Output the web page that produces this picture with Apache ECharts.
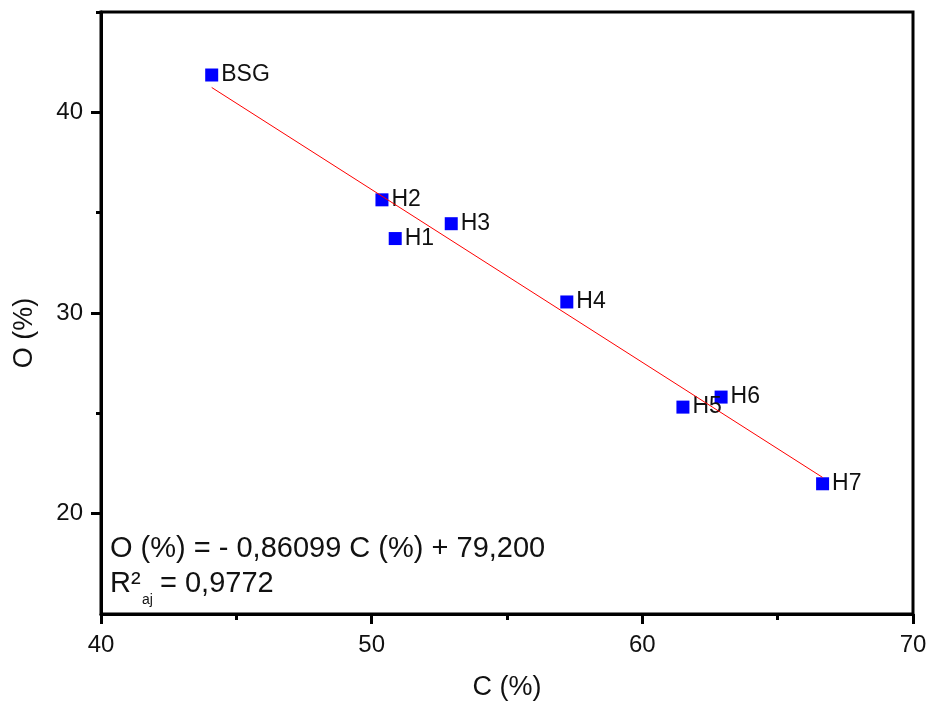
<!DOCTYPE html>
<html>
<head>
<meta charset="utf-8">
<script src="https://cdn.jsdelivr.net/npm/echarts@6/dist/echarts.min.js"></script>
<style>
  html, body { margin: 0; padding: 0; background: #fff; }
  #chart { width: 930px; height: 706px; }
</style>
</head>
<body>
<div id="chart"></div>
<script>
// Sample labels and elemental composition (wt %)
const sampleNames = ['BSG', 'H1', 'H2', 'H3', 'H4', 'H5', 'H6', 'H7'];
const carbonPct   = [44.09, 50.87, 50.38, 52.94, 57.21, 61.50, 62.91, 66.66];
const oxygenPct   = [41.86, 33.71, 35.64, 34.45, 30.55, 25.31, 25.81, 21.49];

// Linear fit O = a*C + b
const fitSlope = -0.86099;
const fitIntercept = 79.200;
const fitR2Label = '0,9772';

// Axis ticks
const xRange = [40, 70];
const xTickStep = 10;
const yRange = [15, 45];
const yMajorTicks = [20, 30, 40];
const yMinorTicks = [25, 35, 45];

const points = sampleNames.map((n, i) => ({ name: n, value: [carbonPct[i], oxygenPct[i]] }));
const cMin = Math.min(...carbonPct);
const cMax = Math.max(...carbonPct);
const fitLine = [
  [cMin, fitSlope * cMin + fitIntercept],
  [cMax, fitSlope * cMax + fitIntercept]
];

const FONT = '"Liberation Sans", Arial, sans-serif';
const TXT = '#111';
const axisLineStyle = { color: '#000', width: 3 };

const chart = echarts.init(document.getElementById('chart'), null, { renderer: 'canvas' });

chart.setOption({
  animation: false,
  backgroundColor: '#fff',
  textStyle: { fontFamily: FONT },
  grid: {
    left: 101, right: 17, top: 12, bottom: 91,
    show: true, borderColor: '#000', borderWidth: 3, backgroundColor: 'transparent'
  },
  xAxis: {
    type: 'value',
    min: xRange[0], max: xRange[1], interval: xTickStep,
    position: 'bottom',
    axisLine: { show: true, onZero: false, lineStyle: axisLineStyle },
    axisTick: { show: true, length: 10, lineStyle: axisLineStyle },
    minorTick: { show: true, splitNumber: 2, length: 6, lineStyle: axisLineStyle },
    axisLabel: { fontSize: 24, color: TXT, margin: 19, fontFamily: FONT },
    splitLine: { show: false },
    name: 'C (%)',
    nameLocation: 'middle',
    nameGap: 60,
    nameTextStyle: { fontSize: 27, color: TXT, fontFamily: FONT }
  },
  yAxis: [
    {
      type: 'value',
      min: yRange[0], max: yRange[1],
      position: 'left',
      axisLine: { show: true, onZero: false, lineStyle: axisLineStyle },
      axisTick: { show: true, length: 10, lineStyle: axisLineStyle, customValues: yMajorTicks },
      axisLabel: { fontSize: 24, color: TXT, margin: 18, fontFamily: FONT, customValues: yMajorTicks },
      splitLine: { show: false }
    },
    {
      type: 'value',
      min: yRange[0], max: yRange[1],
      position: 'left',
      axisLine: { show: false },
      axisTick: { show: true, length: 5, lineStyle: axisLineStyle, customValues: yMinorTicks },
      axisLabel: { show: false },
      splitLine: { show: false }
    }
  ],
  series: [
    {
      type: 'scatter',
      data: points,
      symbol: 'rect',
      symbolSize: 13,
      itemStyle: { color: '#0000ff', opacity: 1 },
      label: {
        show: true,
        position: 'right',
        distance: 3,
        formatter: '{b}',
        fontSize: 23,
        color: TXT,
        opacity: 1,
        fontFamily: FONT
      },
      z: 3
    },
    {
      type: 'line',
      data: fitLine,
      symbol: 'none',
      lineStyle: { color: '#ff0000', width: 1 },
      silent: true,
      z: 4
    }
  ],
  graphic: [
    {
      type: 'text',
      x: 25, y: 333,
      rotation: Math.PI / 2,
      style: { text: 'O (%)', font: '27px ' + FONT, fill: TXT, align: 'center', verticalAlign: 'middle' }
    },
    {
      type: 'text',
      x: 110, y: 549,
      style: { text: 'O (%) = - 0,86099 C (%) + 79,200', font: '29px ' + FONT, fill: TXT, align: 'left', verticalAlign: 'middle' }
    },
    {
      type: 'text',
      x: 110, y: 584,
      style: { text: 'R²', font: '29px ' + FONT, fill: TXT, align: 'left', verticalAlign: 'middle' }
    },
    {
      type: 'text',
      x: 142, y: 600,
      style: { text: 'aj', font: '14px ' + FONT, fill: TXT, align: 'left', verticalAlign: 'middle' }
    },
    {
      type: 'text',
      x: 160, y: 584,
      style: { text: '= ' + fitR2Label, font: '29px ' + FONT, fill: TXT, align: 'left', verticalAlign: 'middle' }
    }
  ]
});
</script>
</body>
</html>
